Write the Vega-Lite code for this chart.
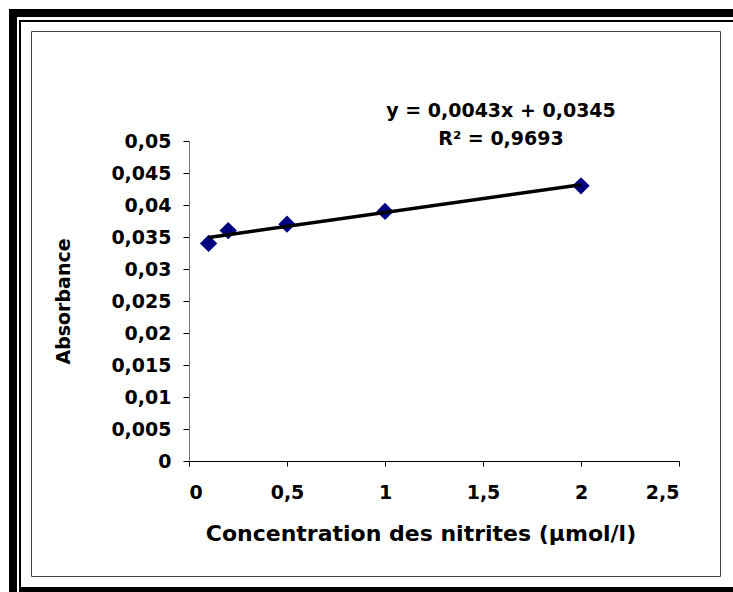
{
  "$schema": "https://vega.github.io/schema/vega-lite/v6.json",
  "width": 490,
  "height": 320,
  "autosize": {"type": "none"},
  "padding": {"left": 189, "top": 141, "right": 54, "bottom": 131},
  "background": "white",
  "config": {
    "view": {"stroke": null},
    "font": "DejaVu Sans",
    "axisX": {
      "grid": false,
      "labelOverlap": false,
      "domainColor": "black", "domainWidth": 1,
      "tickColor": "black", "tickSize": 5, "tickWidth": 1,
      "labelFont": "DejaVu Sans", "labelFontSize": 19, "labelFontWeight": "bold", "labelColor": "black",
      "labelPadding": 17,
      "titleFont": "DejaVu Sans", "titleFontSize": 22, "titleFontWeight": "bold", "titleColor": "black",
      "titlePadding": 21, "titleX": 231.5
    },
    "axisY": {
      "grid": false,
      "labelOverlap": false,
      "domainColor": "#777777", "domainWidth": 1,
      "tickColor": "black", "tickSize": 6, "tickWidth": 1,
      "labelFont": "DejaVu Sans", "labelFontSize": 19, "labelFontWeight": "bold", "labelColor": "black",
      "labelPadding": 12,
      "titleFont": "DejaVu Sans", "titleFontSize": 19, "titleFontWeight": "bold", "titleColor": "black",
      "titlePadding": 37
    }
  },
  "data": {
    "values": [
      {"concentration": 0.1, "absorbance": 0.034},
      {"concentration": 0.2, "absorbance": 0.036},
      {"concentration": 0.5, "absorbance": 0.037},
      {"concentration": 1.0, "absorbance": 0.039},
      {"concentration": 2.0, "absorbance": 0.043}
    ]
  },
  "layer": [
    {
      "mark": {"type": "point", "shape": "diamond", "filled": true, "size": 300, "color": "#000080", "opacity": 1, "strokeWidth": 0},
      "encoding": {
        "x": {
          "field": "concentration", "type": "quantitative",
          "scale": {"domain": [0, 2.5], "nice": false, "zero": false},
          "axis": {"title": "Concentration des nitrites (µmol/l)", "values": [0, 0.5, 1, 1.5, 2, 2.5], "labelExpr": "replace(format(datum.value, '~g'), '.', ',')"}
        },
        "y": {
          "field": "absorbance", "type": "quantitative",
          "scale": {"domain": [0, 0.05], "nice": false, "zero": false},
          "axis": {"title": "Absorbance", "values": [0, 0.005, 0.01, 0.015, 0.02, 0.025, 0.03, 0.035, 0.04, 0.045, 0.05], "labelExpr": "replace(format(datum.value, '~g'), '.', ',')"}
        }
      }
    },
    {
      "transform": [{"regression": "absorbance", "on": "concentration"}],
      "mark": {"type": "line", "color": "black", "strokeWidth": 3.5},
      "encoding": {
        "x": {"field": "concentration", "type": "quantitative",
          "axis": {"title": "Concentration des nitrites (µmol/l)", "values": [0, 0.5, 1, 1.5, 2, 2.5], "labelExpr": "replace(format(datum.value, '~g'), '.', ',')"}},
        "y": {"field": "absorbance", "type": "quantitative",
          "axis": {"title": "Absorbance", "values": [0, 0.005, 0.01, 0.015, 0.02, 0.025, 0.03, 0.035, 0.04, 0.045, 0.05], "labelExpr": "replace(format(datum.value, '~g'), '.', ',')"}}
      }
    },
    {
      "data": {"values": [{"frame": "outer thick"}]},
      "mark": {"type": "rect", "filled": false, "fill": null, "stroke": "black", "strokeWidth": 8, "clip": false},
      "encoding": {
        "x": {"datum": -0.897959, "type": "quantitative",
          "axis": {"title": "Concentration des nitrites (µmol/l)", "values": [0, 0.5, 1, 1.5, 2, 2.5], "labelExpr": "replace(format(datum.value, '~g'), '.', ',')"}},
        "x2": {"datum": 2.913265},
        "y": {"datum": 0.07, "type": "quantitative",
          "axis": {"title": "Absorbance", "values": [0, 0.005, 0.01, 0.015, 0.02, 0.025, 0.03, 0.035, 0.04, 0.045, 0.05], "labelExpr": "replace(format(datum.value, '~g'), '.', ',')"}},
        "y2": {"datum": -0.021719}
      }
    },
    {
      "data": {"values": [{"frame": "outer thin"}]},
      "mark": {"type": "rect", "filled": false, "fill": null, "stroke": "black", "strokeWidth": 2, "clip": false},
      "encoding": {
        "x": {"datum": -0.862245, "type": "quantitative",
          "axis": {"title": "Concentration des nitrites (µmol/l)", "values": [0, 0.5, 1, 1.5, 2, 2.5], "labelExpr": "replace(format(datum.value, '~g'), '.', ',')"}},
        "x2": {"datum": 2.913265},
        "y": {"datum": 0.06875, "type": "quantitative",
          "axis": {"title": "Absorbance", "values": [0, 0.005, 0.01, 0.015, 0.02, 0.025, 0.03, 0.035, 0.04, 0.045, 0.05], "labelExpr": "replace(format(datum.value, '~g'), '.', ',')"}},
        "y2": {"datum": -0.021719}
      }
    },
    {
      "data": {"values": [{"frame": "bottom band"}]},
      "mark": {"type": "rect", "color": "black", "opacity": 1, "clip": false},
      "encoding": {
        "x": {"datum": -0.867347, "type": "quantitative",
          "axis": {"title": "Concentration des nitrites (µmol/l)", "values": [0, 0.5, 1, 1.5, 2, 2.5], "labelExpr": "replace(format(datum.value, '~g'), '.', ',')"}},
        "x2": {"datum": 2.913265},
        "y": {"datum": -0.0196875, "type": "quantitative",
          "axis": {"title": "Absorbance", "values": [0, 0.005, 0.01, 0.015, 0.02, 0.025, 0.03, 0.035, 0.04, 0.045, 0.05], "labelExpr": "replace(format(datum.value, '~g'), '.', ',')"}},
        "y2": {"datum": -0.021719}
      }
    },
    {
      "data": {"values": [{"frame": "chart area"}]},
      "mark": {"type": "rect", "filled": false, "fill": null, "stroke": "#404040", "strokeWidth": 1, "clip": false},
      "encoding": {
        "x": {"datum": -0.803571, "type": "quantitative",
          "axis": {"title": "Concentration des nitrites (µmol/l)", "values": [0, 0.5, 1, 1.5, 2, 2.5], "labelExpr": "replace(format(datum.value, '~g'), '.', ',')"}},
        "x2": {"datum": 2.711735},
        "y": {"datum": 0.067109, "type": "quantitative",
          "axis": {"title": "Absorbance", "values": [0, 0.005, 0.01, 0.015, 0.02, 0.025, 0.03, 0.035, 0.04, 0.045, 0.05], "labelExpr": "replace(format(datum.value, '~g'), '.', ',')"}},
        "y2": {"datum": -0.018047}
      }
    },
    {
      "data": {"values": [{"label": ["y = 0,0043x + 0,0345", "R² = 0,9693"]}]},
      "mark": {"type": "text", "font": "DejaVu Sans", "fontSize": 19, "fontWeight": "bold", "color": "black", "align": "center", "baseline": "alphabetic", "lineHeight": 28.5, "clip": false},
      "encoding": {
        "x": {"datum": 1.591837, "type": "quantitative",
          "axis": {"title": "Concentration des nitrites (µmol/l)", "values": [0, 0.5, 1, 1.5, 2, 2.5], "labelExpr": "replace(format(datum.value, '~g'), '.', ',')"}},
        "y": {"datum": 0.053797, "type": "quantitative",
          "axis": {"title": "Absorbance", "values": [0, 0.005, 0.01, 0.015, 0.02, 0.025, 0.03, 0.035, 0.04, 0.045, 0.05], "labelExpr": "replace(format(datum.value, '~g'), '.', ',')"}},
        "text": {"field": "label"}
      }
    }
  ]
}
